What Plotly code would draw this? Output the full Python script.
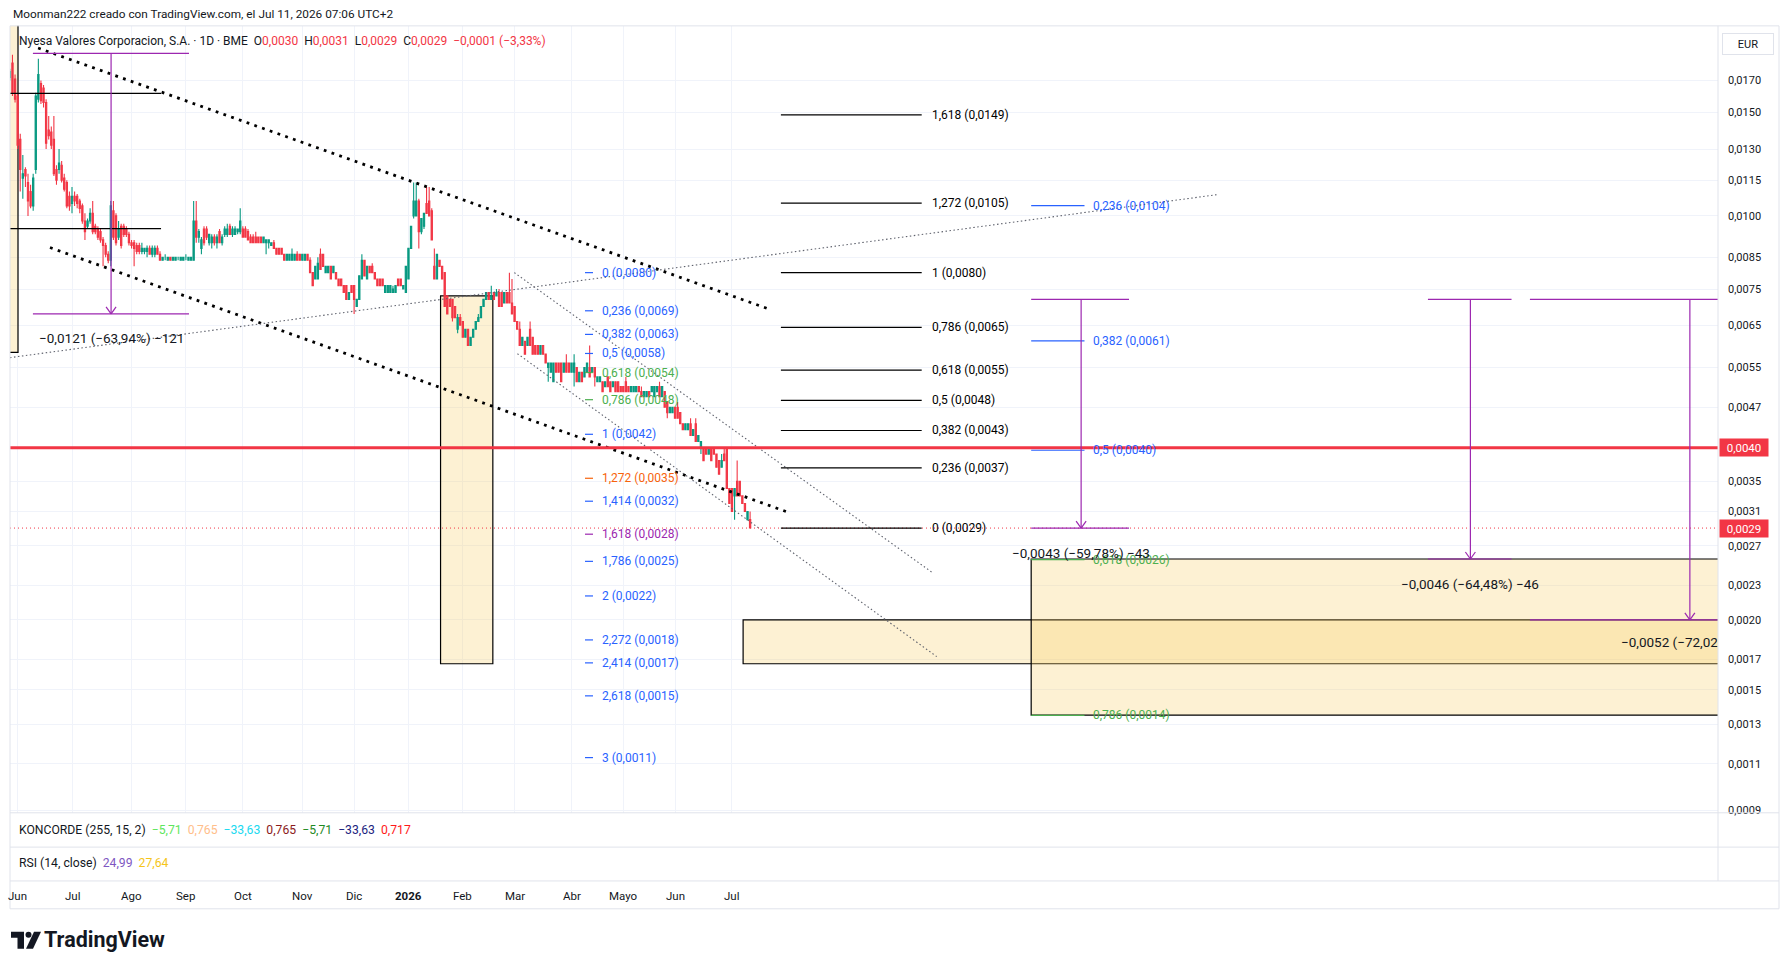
import numpy as np
import plotly.graph_objects as go

W, H = 1790, 972
UNIT = 0.0001  # candle arrays are in units of 0.0001 EUR

# ---------------- candles (daily, bar index starts at FIRST_BAR) ----------------
FIRST_BAR = -3
opens = [
    172,182,171,160,135,116,120,114,110,104, 120,158,168,165,156,140,139,135,120,120,
    122,116,114,108,105,108,108,106,104,98, 96,98,101,96,95,94,91,89,86,84,
    102,100,92,96,96,95,93,90,90,89, 89,87,87,87,88,86,86,88,86,84,
    85,84,85,84,84,85,84,84,85,84, 84,84,98,92,88,95,95,90,90,92,
    90,94,90,93,93,96,93,93,94,94, 95,95,94,92,92,
    92,92,92,90,90,90,89,90,88,88, 88,86,84,84,84,84,86,86,84,84,
    86,84,80,78,78,86,86,80,80,82, 80,80,78,78,76,76,72,76,76,70,
    72,78,84,78,82,82,80,78,78,78, 74,74,74,74,74,78,78,75,74,78,
    88,100,100,106,94,96,105,106,102,82, 78,84,82,80,73,72,72,70,64,67,
    66,62,64,60,62,64,66,67,70,72, 74,72,74,
    73,74,74,71,74,74,71,70,66,64, 60,61,60,64,62,60,60,58,60,58,
    55,54,52,56,56,56,54,56,56,54, 54,55,52,54,53,54,55,54,55,52,
    52,52,51,53,52,51,52,52,51,51, 52,51,50,50,50,51,50,49,49,50,
    50,49,50,51,49,50,48,46,46,47, 47,46,44,43,43,44,42,44,41,40,
    40,40,39,40,40,39,38,37,39,40, 34,34,33,35,35,33,32,30,30]
highs = [
    178,188,174,162,138,127,121,118,113,118, 162,185,170,167,158,148,142,148,122,130,
    124,118,115,110,112,110,109,107,105,101, 99,103,106,97,96,95,92,90,87,106,
    106,101,98,97,97,96,94,91,91,90, 90,90,88,89,89,89,89,89,87,85,
    86,85,85,85,85,85,85,85,86,85, 85,106,106,95,92,96,96,93,93,93,
    93,95,93,96,97,97,96,96,95,103, 96,96,95,93,93,
    94,92,92,92,91,91,90,91,88,88, 88,86,86,86,88,86,87,86,86,86,
    86,85,80,82,85,88,86,82,82,82, 82,80,78,78,76,76,74,76,76,72,
    79,86,84,82,82,83,80,78,78,78, 76,76,76,76,76,78,78,76,82,88,
    96,114,114,107,99,101,112,112,103,88, 86,84,82,80,73,72,72,70,68,68,
    66,64,64,62,64,66,68,70,72,74, 74,76,74,
    75,75,74,74,74,80,78,70,66,66, 62,61,62,66,62,60,60,60,60,58,
    56,56,56,56,56,56,56,58,56,56, 58,55,54,54,55,56,60,55,55,53,
    53,52,52,53,52,52,52,52,51,51, 53,51,51,51,51,51,51,50,50,50,
    51,51,51,52,51,50,48,47,47,47, 48,46,44,44,44,45,43,45,42,41,
    40,40,40,40,40,39,38,39,40,40, 34,34,34,38,35,33,32,31,31]
lows = [
    170,160,156,130,110,107,112,100,103,102, 118,156,155,153,130,135,130,117,113,118,
    114,110,103,102,101,104,103,101,97,91, 95,97,93,93,91,90,82,85,83,82,
    91,89,91,88,92,92,89,88,82,86, 86,86,86,85,86,85,85,86,84,84,
    84,84,84,84,84,84,84,84,84,84, 84,84,90,90,86,89,91,89,88,89,
    88,90,89,92,92,93,92,93,93,93, 92,92,91,90,90,
    90,90,90,90,86,88,89,88,86,86, 86,84,84,84,84,84,84,84,84,84,
    84,80,76,78,78,81,82,80,80,78, 80,78,76,76,74,72,72,74,68,70,
    72,78,79,78,80,80,78,76,76,76, 74,74,74,74,74,76,76,75,74,78,
    88,99,100,88,93,95,101,100,91,78, 78,82,78,70,68,70,66,67,63,65,
    62,62,60,60,62,64,66,67,70,72, 72,72,72,
    73,70,70,71,71,71,68,66,64,60, 60,58,60,60,58,58,58,58,58,56,
    52,54,52,54,54,52,54,54,54,54, 51,52,52,52,53,54,53,54,51,52,
    52,50,51,51,50,51,50,50,50,50, 50,50,50,50,50,50,49,49,49,49,
    50,49,50,49,49,47,45,46,46,45, 45,44,43,43,43,42,42,41,41,39,
    38,39,39,38,39,37,36,37,38,34, 32,31,30,33,33,32,31,30,29]
closes = [
    176,162,158,132,120,118,117,106,104,116, 160,174,157,156,133,137,132,118,115,123,
    115,111,104,104,108,106,105,103,98,94, 98,101,94,94,92,91,89,86,84,104,
    92,90,95,89,93,93,90,89,88,87, 87,88,88,88,86,88,88,86,84,85,
    85,85,84,85,85,85,85,85,85,85, 85,98,92,94,91,90,92,93,92,90,
    92,90,92,95,95,93,95,95,95,98, 92,92,91,90,90,
    90,90,90,92,91,91,90,88,86,86, 86,84,86,86,86,86,84,84,86,86,
    84,80,76,82,83,81,82,82,82,78, 82,78,76,76,74,72,74,74,72,72,
    79,84,79,82,80,80,78,76,76,76, 76,76,76,75,76,76,76,76,82,88,
    96,106,106,94,99,101,101,100,91,78, 86,82,78,70,68,70,67,67,67,65,
    62,64,60,62,64,66,67,70,72,74, 72,73,72,
    74,70,70,74,71,71,68,66,64,60, 62,58,62,60,58,58,58,60,58,56,
    56,56,56,54,54,52,56,54,54,56, 56,52,54,52,55,56,53,55,53,53,
    53,50,52,51,50,52,50,50,50,50, 50,50,51,51,51,50,49,50,50,49,
    51,51,51,49,51,47,46,47,47,45, 45,44,43,44,44,42,43,41,42,41,
    38,39,40,38,39,37,36,38,38,34, 32,31,34,33,33,32,31,31,29]

month_labels = ["Jun", "Jul", "Ago", "Sep", "Oct", "Nov", "Dic", "2026",
                "Feb", "Mar", "Abr", "Mayo", "Jun", "Jul"]
month_bars = [0, 21, 44, 65, 87, 110, 130, 151, 172, 192, 214, 234, 254, 276]

price_ticks = [0.0170, 0.0150, 0.0130, 0.0115, 0.0100, 0.0085, 0.0075, 0.0065,
               0.0055, 0.0047, 0.0035, 0.0031, 0.0027, 0.0023, 0.0020, 0.0017,
               0.0015, 0.0013, 0.0011, 0.0009]

last_price = 0.0029
level_price = 0.0040

# Fibonacci 1 (left, coloured)
fib1_p0, fib1_p1 = 0.0080, 0.00422
fib1_ratios = [0, 0.236, 0.382, 0.5, 0.618, 0.786, 1, 1.272, 1.414, 1.618,
               1.786, 2, 2.272, 2.414, 2.618, 3]
fib1_prices = [0.0080, 0.0069, 0.0063, 0.0058, 0.0054, 0.0048, 0.0042, 0.0035,
               0.0032, 0.0028, 0.0025, 0.0022, 0.0018, 0.0017, 0.0015, 0.0011]
fib1_colors = ["#2962ff", "#2962ff", "#2962ff", "#2962ff", "#4caf50", "#4caf50",
               "#2962ff", "#f7630c", "#2962ff", "#9c27b0", "#2962ff", "#2962ff",
               "#2962ff", "#2962ff", "#2962ff", "#2962ff"]
fib1_x = [219.2, 222.3, 225.0]

# Fibonacci 2 (black)
fib2_p0, fib2_p1 = 0.0029, 0.0080
fib2_ratios = [0, 0.236, 0.382, 0.5, 0.618, 0.786, 1, 1.272, 1.618]
fib2_prices = [0.0029, 0.0037, 0.0043, 0.0048, 0.0055, 0.0065, 0.0080, 0.0105, 0.0149]
fib2_x = [294.9, 349.3, 352.5]

# Fibonacci 3 (right)
fib3_p0, fib3_p1 = 0.0245, 0.00057
fib3_ratios = [0.236, 0.382, 0.5, 0.618, 0.786]
fib3_prices = [0.0104, 0.0061, 0.0040, 0.0026, 0.0014]
fib3_colors = ["#2962ff", "#2962ff", "#2962ff", "#4caf50", "#4caf50"]
fib3_x = [391.6, 412.2, 414.6]

# price-range (measure) tools
meas_x0 = [5.9, 391.6, 544.9, 584.3]
meas_x1 = [66.2, 429.4, 577.2, 700.0]
meas_xa = [36.1, 410.9, 561.3, 646.1]
meas_top = [0.0189, 0.0072, 0.0072, 0.0072]
meas_bot = [0.0068, 0.0029, 0.00256, 0.0020]
meas_text = ["\u22120,0121 (\u221263,94%) \u2212121", "\u22120,0043 (\u221259,78%) \u221243",
             "\u22120,0046 (\u221264,48%) \u221246", "\u22120,0052 (\u221272,02%) \u221252"]
meas_gap = [24, 25, 25, 25]

# rectangles
box_x0 = [-10.0, 163.4, 280.3, 391.6]
box_x1 = [0.14, 183.6, 700.0, 700.0]
box_top = [0.0300, 0.0073, 0.0020, 0.00256]
box_bot = [0.00584, 0.00167, 0.00167, 0.00135]

# trend lines (bar index, price)
big_dot_lines = [((7.9, 0.0193), (290.7, 0.00692)), ((12.5, 0.00883), (297.7, 0.00309))]
thin_dot_lines = [((-2.96, 0.00572), (463.4, 0.01087)),
                  ((191.9, 0.0080), (353.6, 0.00242)),
                  ((193.1, 0.00581), (355.1, 0.00172))]
black_hlines = [0.01616, 0.00951]
black_hline_x = [-10.0, 55.4]

koncorde_vals = ["\u22125,71", "0,765", "\u221233,63", "0,765", "\u22125,71", "\u221233,63", "0,717"]
koncorde_cols = ["#5ee65e", "#ffbe8a", "#19d9f0", "#8b1a1a", "#1f8a1f", "#1a237e", "#ff1a1a"]
rsi_vals = ["24,99", "27,64"]
rsi_cols = ["#7e57c2", "#f5c518"]

# ---------------- geometry ----------------
PL, PR, PT, PB = 10, 1718, 26, 817
# pixel mapping of the price pane: y_px = -970.82 - 595.2 * log10(p + 0.0001)
Y_RANGE = [-(PB + 970.82) / 595.2, -(PT + 970.82) / 595.2]
X_RANGE = [-2.956, 656.97]
UPP = (Y_RANGE[1] - Y_RANGE[0]) / (PB - PT)  # axis units per pixel (vertical)
FONT = "Roboto, Arial, sans-serif"
TXT = "#131722"
DY = 3.5  # bottom panes offset


def T(p):
    return np.log10(np.asarray(p, dtype=float) + 0.0001)


def fmt(v):
    return f"{v:.4f}".replace(".", ",")


def fmt_r(r):
    return f"{r:g}".replace(".", ",")


def PX(x):
    return x / W


def PY(y):
    return 1 - y / H


shapes, annots = [], []


def line(x0, y0, x1, y1, color, width=1.0, dash="solid", xref="x", yref="y", layer="above"):
    shapes.append(dict(type="line", x0=x0, y0=y0, x1=x1, y1=y1, xref=xref, yref=yref,
                       line=dict(color=color, width=width, dash=dash), layer=layer))


def text(x, y, s, size=12, color=TXT, xanchor="left", xref="x", yref="y", yshift=0, **kw):
    annots.append(dict(x=x, y=y, text=s, xref=xref, yref=yref, showarrow=False,
                       xanchor=xanchor, yanchor="middle", yshift=yshift,
                       font=dict(family=FONT, size=size, color=color), **kw))


# ---------------- rectangles ----------------
fill = "rgba(249,203,98,0.28)"
for x0, x1, pt, pb in zip(box_x0, box_x1, box_top, box_bot):
    shapes.append(dict(type="rect", xref="x", yref="y", x0=x0, x1=x1, y0=float(T(pb)), y1=float(T(pt)),
                       fillcolor=fill, line=dict(color="#000000", width=1.2), layer="between"))

# ---------------- black helper lines top-left ----------------
for p in black_hlines:
    line(black_hline_x[0], float(T(p)), black_hline_x[1], float(T(p)), "#000000", 1.2)

# ---------------- trend lines ----------------
for (a, b) in big_dot_lines:
    line(a[0], float(T(a[1])), b[0], float(T(b[1])), "#000000", 2.8, "2.8px,5.4px")
for (a, b) in thin_dot_lines:
    line(a[0], float(T(a[1])), b[0], float(T(b[1])), "#5f626d", 1.1, "1.5px,2.5px")

# ---------------- horizontal price lines ----------------
line(X_RANGE[0], float(T(last_price)), X_RANGE[1], float(T(last_price)), "#f23645", 1, "1px,3px")
line(X_RANGE[0], float(T(level_price)), X_RANGE[1], float(T(level_price)), "#f23645", 3)

# ---------------- Fibonacci tools ----------------
t0, t1 = T(fib1_p0), T(fib1_p1)
for r, p, c in zip(fib1_ratios, fib1_prices, fib1_colors):
    ty = float(t0 + r * (t1 - t0))
    line(fib1_x[0], ty, fib1_x[1], ty, c, 1.2)
    text(fib1_x[2], ty, f"{fmt_r(r)} ({fmt(p)})", 12, c)

t0, t1 = T(fib2_p0), T(fib2_p1)
for r, p in zip(fib2_ratios, fib2_prices):
    ty = float(t0 + r * (t1 - t0))
    line(fib2_x[0], ty, fib2_x[1], ty, "#000000", 1.2)
    text(fib2_x[2], ty, f"{fmt_r(r)} ({fmt(p)})", 12, "#000000")

t0, t1 = T(fib3_p0), T(fib3_p1)
for r, p, c in zip(fib3_ratios, fib3_prices, fib3_colors):
    ty = float(t0 + r * (t1 - t0))
    line(fib3_x[0], ty, fib3_x[1], ty, c, 1.2)
    text(fib3_x[2], ty, f"{fmt_r(r)} ({fmt(p)})", 12, c)

# ---------------- measure tools ----------------
PUR = "#9c27b0"
clip_text = []
for k, (x0, x1, xa, pt, pb, s, g) in enumerate(zip(meas_x0, meas_x1, meas_xa, meas_top,
                                                   meas_bot, meas_text, meas_gap)):
    yt, yb = float(T(pt)), float(T(pb))
    line(x0, yt, x1, yt, PUR, 1.2)
    line(x0, yb, x1, yb, PUR, 1.2)
    line(xa, yt, xa, yb, PUR, 1.2)
    for dx in (-5, 5):
        shapes.append(dict(type="line", xref="x", yref="y", xsizemode="pixel", xanchor=xa,
                           ysizemode="pixel", yanchor=yb, x0=dx, x1=0, y0=7, y1=0,
                           line=dict(color=PUR, width=1.2)))
    if k < 3:
        text(xa, yb, s, 13.5, TXT, xanchor="center", yshift=-g)
    else:
        clip_text.append((xa, yb - (g - 1) * UPP, s))

# ---------------- frame / panes ----------------
GRID = "#e0e3eb"
for y in (PT, PB, 848 + DY, 882 + DY, 910 + DY):
    line(PX(10), PY(y), PX(1779), PY(y), GRID, 1, xref="paper", yref="paper")
line(PX(10), PY(PT), PX(10), PY(910 + DY), GRID, 1, xref="paper", yref="paper")
line(PX(1779), PY(PT), PX(1779), PY(910 + DY), GRID, 1, xref="paper", yref="paper")
line(PX(1718), PY(PT), PX(1718), PY(882 + DY), GRID, 1, xref="paper", yref="paper")

# ---------------- texts ----------------
text(PX(11), PY(14), "Moonman222 creado con TradingView.com, el Jul 11, 2026 07:06 UTC+2",
     11.8, TXT, xref="paper", yref="paper")
R = "#f23645"
hdr = ("Nyesa Valores Corporacion, S.A. \u00b7 1D \u00b7 BME&nbsp;&nbsp;"
       f"O<span style='color:{R}'>0,0030</span>&nbsp;&nbsp;H<span style='color:{R}'>0,0031</span>&nbsp;&nbsp;"
       f"L<span style='color:{R}'>0,0029</span>&nbsp;&nbsp;C<span style='color:{R}'>0,0029</span>&nbsp;&nbsp;"
       f"<span style='color:{R}'>\u22120,0001 (\u22123,33%)</span>")
text(PX(17), PY(41.5), hdr, 12, TXT, xref="paper", yref="paper")

kon = "KONCORDE (255, 15, 2)" + "".join(
    f"&nbsp;&nbsp;<span style='color:{c}'>{v}</span>" for v, c in zip(koncorde_vals, koncorde_cols))
text(PX(17), PY(831 + DY), kon, 12.2, TXT, xref="paper", yref="paper")
rsi = "RSI (14, close)" + "".join(
    f"&nbsp;&nbsp;<span style='color:{c}'>{v}</span>" for v, c in zip(rsi_vals, rsi_cols))
text(PX(17), PY(864 + DY), rsi, 12.2, TXT, xref="paper", yref="paper")

for lab, b in zip(month_labels, month_bars):
    s = f"<b>{lab}</b>" if lab.isdigit() else lab
    text(b, PY(897 + DY), s, 11.5, TXT, xanchor="center", yref="paper")

# price labels on axis
for p in (level_price, last_price):
    annots.append(dict(x=PX(1719), y=float(T(p)), xref="paper", yref="y", text=fmt(p),
                       showarrow=False, xanchor="left", yanchor="middle", width=46, height=15,
                       bgcolor=R, font=dict(family=FONT, size=11.5, color="white")))

annots.append(dict(x=PX(1748), y=PY(44.5), xref="paper", yref="paper", text="EUR", showarrow=False,
                   xanchor="center", yanchor="middle", width=48, height=18, bordercolor=GRID,
                   borderwidth=1, bgcolor="white", font=dict(family=FONT, size=11, color=TXT)))

# TradingView logo
LY = 941 + DY
shapes.append(dict(type="path", xref="paper", yref="paper", xsizemode="pixel", ysizemode="pixel",
                   xanchor=PX(11), yanchor=PY(LY),
                   path="M0,8 L13,8 L13,-9 L6.5,-9 L6.5,2 L0,2 Z", fillcolor=TXT, line=dict(width=0)))
shapes.append(dict(type="circle", xref="paper", yref="paper", xsizemode="pixel", ysizemode="pixel",
                   xanchor=PX(11), yanchor=PY(LY), x0=14.5, x1=20.5, y0=2, y1=8,
                   fillcolor=TXT, line=dict(width=0)))
shapes.append(dict(type="path", xref="paper", yref="paper", xsizemode="pixel", ysizemode="pixel",
                   xanchor=PX(11), yanchor=PY(LY),
                   path="M23,8 L30,8 L22,-9 L15,-9 Z", fillcolor=TXT, line=dict(width=0)))
text(PX(42), PY(LY), "<b>TradingView</b>", 21.5, TXT, xref="paper", yref="paper")

# ---------------- traces ----------------
idx = np.arange(len(opens)) + FIRST_BAR
o = np.array(opens) * UNIT
h = np.array(highs) * UNIT
l = np.array(lows) * UNIT
c = np.array(closes) * UNIT

fig = go.Figure()
fig.add_trace(go.Candlestick(
    x=idx, open=T(o), high=T(h), low=T(l), close=T(c),
    increasing=dict(line=dict(color="#089981", width=1.1), fillcolor="#089981"),
    decreasing=dict(line=dict(color="#f23645", width=1.1), fillcolor="#f23645"),
    whiskerwidth=0, hoverinfo="skip", showlegend=False))

for xa, ty, s in clip_text:
    fig.add_trace(go.Scatter(x=[xa], y=[ty], mode="text", text=[s], textposition="middle center",
                             textfont=dict(family=FONT, size=13.5, color=TXT), cliponaxis=True,
                             hoverinfo="skip", showlegend=False))

fig.update_layout(
    width=W, height=H, margin=dict(l=0, r=0, t=0, b=0),
    paper_bgcolor="white", plot_bgcolor="white", showlegend=False,
    font=dict(family=FONT, color=TXT),
    xaxis=dict(domain=[PL / W, PR / W], range=X_RANGE, tickvals=month_bars, showticklabels=False,
               showgrid=True, gridcolor="#f0f3fa", zeroline=False, showline=False, ticks="",
               rangeslider=dict(visible=False), fixedrange=True),
    yaxis=dict(domain=[1 - PB / H, 1 - PT / H], range=Y_RANGE, side="right",
               tickvals=list(T(price_ticks)), ticktext=[fmt(p) for p in price_ticks],
               showgrid=True, gridcolor="#f0f3fa", zeroline=False, showline=False, ticks="",
               tickfont=dict(family=FONT, size=11, color=TXT), ticklabelstandoff=9, fixedrange=True),
    shapes=shapes, annotations=annots,
)

fig.write_html("out.html")
